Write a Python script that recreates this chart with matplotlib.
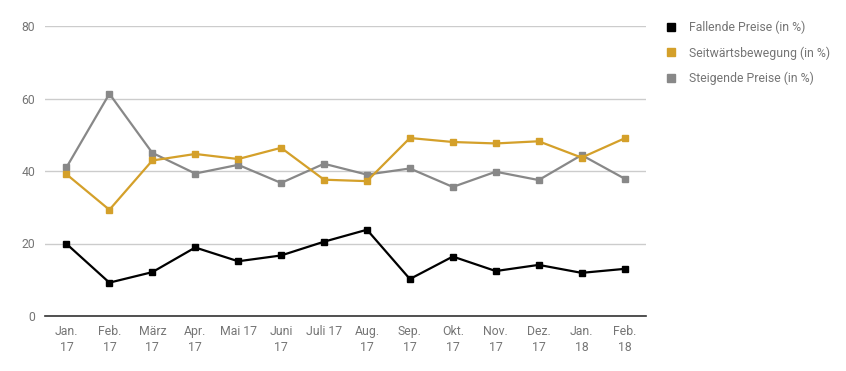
import matplotlib
matplotlib.use("Agg")
import matplotlib.pyplot as plt
from matplotlib.lines import Line2D

months = ["Jan.\n17", "Feb.\n17", "März\n17", "Apr.\n17", "Mai 17", "Juni\n17", "Juli 17",
          "Aug.\n17", "Sep.\n17", "Okt.\n17", "Nov.\n17", "Dez.\n17", "Jan.\n18", "Feb.\n18"]
fallende = [19.9, 9.2, 12.1, 18.9, 15.1, 16.7, 20.5, 23.8, 10.2, 16.4, 12.4, 14.1, 11.9, 13.0]
seitwaerts = [39.1, 29.3, 42.9, 44.7, 43.3, 46.4, 37.6, 37.2, 49.1, 48.0, 47.6, 48.2, 43.7, 49.0]
steigende = [41.0, 61.3, 45.0, 39.3, 41.7, 36.7, 42.0, 39.0, 40.7, 35.6, 39.8, 37.5, 44.4, 37.9]
series_names = ["Fallende Preise (in %)", "Seitwärtsbewegung (in %)", "Steigende Preise (in %)"]
yticks = [0, 20, 40, 60, 80]

colors = ["#000000", "#d4a02a", "#888888"]
plt.rcParams['font.family'] = ['Roboto', 'DejaVu Sans']

W, H = 846, 371
fig = plt.figure(figsize=(W / 100, H / 100), dpi=100)
ax = fig.add_axes([45 / W, (H - 316) / H, (646 - 45) / W, (316 - 26) / H])

x = list(range(len(months)))
for vals, col in [(steigende, colors[2]), (seitwaerts, colors[1]), (fallende, colors[0])]:
    ax.plot(x, vals, color=col, lw=1.6, marker='s', markersize=5.0, zorder=3)

ax.set_xlim(-0.5, len(months) - 0.5)
ax.set_ylim(0, 80)
ax.set_yticks(yticks)
ax.set_yticklabels([str(v) for v in yticks])
ax.set_xticks(x)
ax.set_xticklabels(months, linespacing=1.3)
ax.grid(axis='y', color='#cccccc', lw=1)
ax.set_axisbelow(True)
for s in ['top', 'right', 'left']:
    ax.spines[s].set_visible(False)
ax.spines['bottom'].set_color('#333333')
ax.spines['bottom'].set_linewidth(1.2)
ax.spines['bottom'].set_zorder(4)
ax.tick_params(axis='both', length=0, labelsize=8.8, colors='#757575')
ax.tick_params(axis='x', pad=6.5)
ax.tick_params(axis='y', pad=7)

handles = [Line2D([], [], color=c, marker='s', linestyle='none', markersize=5.5) for c in colors]
fig.legend(handles, series_names, loc='upper left', bbox_to_anchor=(660 / W, 1 - 16 / H),
           frameon=False, fontsize=8.8, labelcolor='#757575', handlelength=1.0,
           handletextpad=1.0, labelspacing=0.97, borderaxespad=0)

fig.savefig("out.png", dpi=100)
